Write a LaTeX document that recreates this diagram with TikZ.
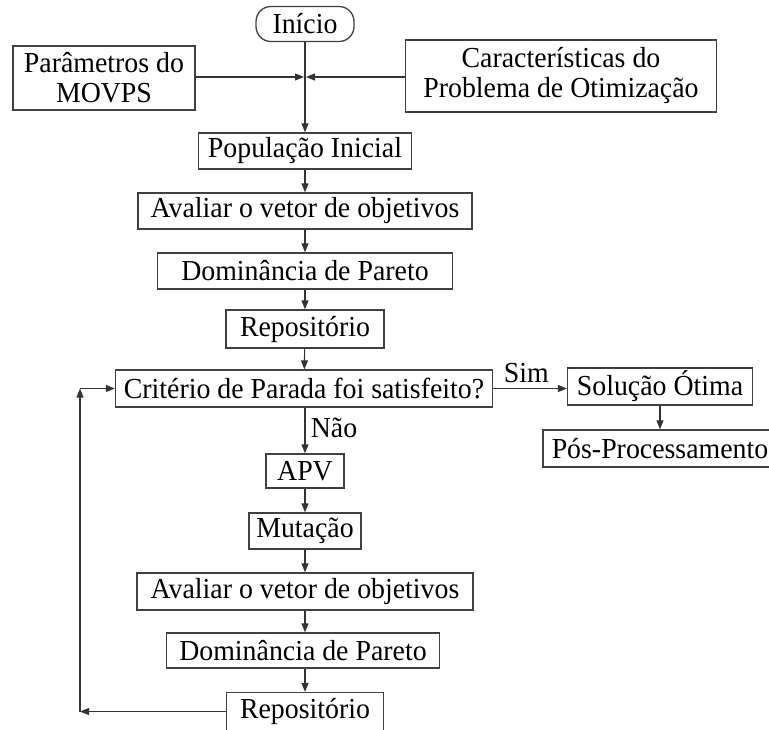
\documentclass[tikz,border=0pt]{standalone}
\usepackage{fontspec}
\setmainfont{Liberation Serif}[FakeStretch=0.96]
\usetikzlibrary{arrows.meta}

\begin{document}
\begin{tikzpicture}[x=1pt,y=-1pt,
  txt/.style={font=\fontsize{29}{30}\selectfont, text=black},
  box/.style={txt, draw=black!75, line width=1.3pt, inner sep=0pt, align=center},
  pill/.style={box, rounded corners=15pt},
  flow/.style={draw=black!80, line width=1.1pt, -{Triangle[length=9pt,width=7pt]}}
]
\useasboundingbox (0,0) rectangle (769,729);

% main column
\node[pill, minimum width=98pt, minimum height=35pt] (inicio) at (305,24) {Início};
\node[box, minimum width=182pt, minimum height=64pt] (param) at (104,78) {Parâmetros do\\MOVPS};
\node[box, minimum width=311pt, minimum height=72pt] (caract) at (561,76) {Características do\\Problema de Otimização};
\coordinate (join) at (305,77);

\node[box, minimum width=213pt, minimum height=36pt] (pop) at (305,151) {População Inicial};
\node[box, minimum width=334pt, minimum height=36pt] (aval1) at (305,211) {Avaliar o vetor de objetivos};
\node[box, minimum width=295pt, minimum height=36pt] (dom1) at (305,271) {Dominância de Pareto};
\node[box, minimum width=158pt, minimum height=38pt] (rep1) at (305,329) {Repositório};
\node[box, minimum width=377pt, minimum height=37pt] (crit) at (304,388.5) {Critério de Parada foi satisfeito?};

% exit branch
\node[box, minimum width=185pt, minimum height=37pt] (sol) at (660,386.5) {Solução Ótima};
\node[box, minimum width=234pt, minimum height=37pt] (pos) at (660,448.5) {Pós-Processamento};

% loop body
\node[box, minimum width=78pt, minimum height=34pt] (apv) at (305,471) {APV};
\node[box, minimum width=112pt, minimum height=36pt] (mut) at (305,531) {Mutação};
\node[box, minimum width=336pt, minimum height=37pt] (aval2) at (305,591.5) {Avaliar o vetor de objetivos};
\node[box, minimum width=273pt, minimum height=35pt] (dom2) at (303,650.5) {Dominância de Pareto};
\node[box, minimum width=157pt, minimum height=38pt] (rep2) at (305,711.5) {Repositório};

\coordinate (lowc) at (80,711.5);
\coordinate (upc) at (80,388.5);

% connectors
\draw[flow] (inicio) -- (pop);
\draw[flow] (param.east |- join) -- ([xshift=-1pt]join);
\draw[flow] (caract.west |- join) -- ([xshift=1pt]join);
\draw[flow] (pop) -- (aval1);
\draw[flow] (aval1) -- (dom1);
\draw[flow] (dom1) -- (rep1);
\draw[flow] (rep1) -- (crit);
\draw[flow] (crit.east) -- node[txt, above=2pt, pos=0.45] {Sim} (sol.west |- crit.east);
\draw[flow] (sol) -- (pos);
\draw[flow] (crit.south -| apv.north) -- node[txt, right=2pt, pos=0.45] {Não} (apv);
\draw[flow] (apv) -- (mut);
\draw[flow] (mut) -- (aval2);
\draw[flow] (aval2) -- (dom2.north -| aval2.south);
\draw[flow] (dom2.south -| rep2.north) -- (rep2);
\draw[flow] (rep2.west) -- (lowc);
\draw[flow] (lowc) -- (upc);
\draw[flow] (upc) -- (crit.west);
\end{tikzpicture}
\end{document}
